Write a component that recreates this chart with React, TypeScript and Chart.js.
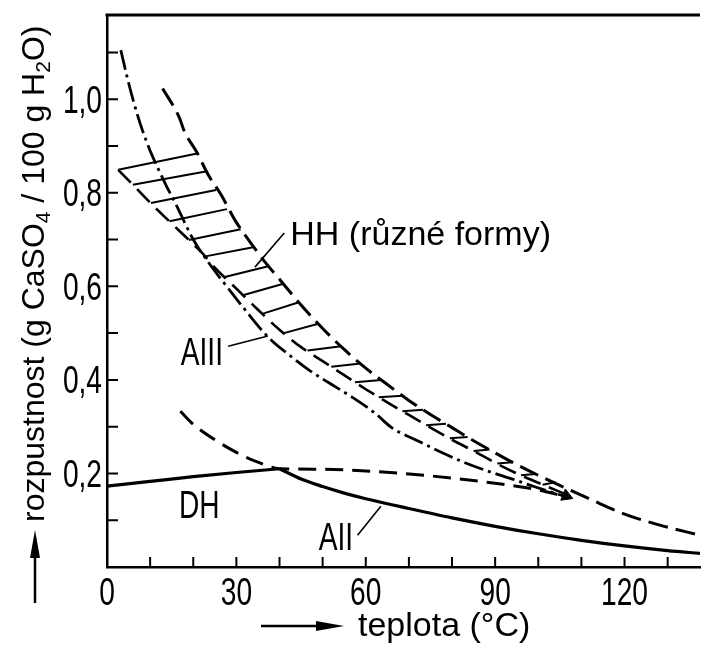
import React, { useEffect, useRef } from 'react';
import { Chart, registerables } from 'chart.js';

Chart.register(...registerables);

// ---- axes ----
const X_MIN = 0;
const X_MAX = 137.5;
const Y_MIN = 0;
const Y_MAX = 1.18;
const xTickValues = [0, 30, 60, 90, 120];
const xTickLabels = ['0', '30', '60', '90', '120'];
const xMinorTicks = [10, 20, 30, 40, 50, 60, 70, 80, 90, 100, 110, 120, 130];
const yTickValues = [0.2, 0.4, 0.6, 0.8, 1.0];
const yTickLabels = ['0,2', '0,4', '0,6', '0,8', '1,0'];
const yMinorTicks = [0.1, 0.2, 0.3, 0.4, 0.5, 0.6, 0.7, 0.8, 0.9, 1.0, 1.1];

// ---- curves ----
// DH (dihydrate) solid
const dhX = [0, 10, 20, 30, 40];
const dhY = [0.173, 0.183, 0.193, 0.202, 0.21];
// AII (anhydrite II) solid
const a2X = [40, 45, 50, 55, 60, 70, 80, 90, 100, 110, 120, 130, 137.5];
const a2Y = [0.21, 0.188, 0.172, 0.158, 0.146, 0.125, 0.105, 0.087, 0.071, 0.057, 0.045, 0.035, 0.029];
// metastable dashed (DH below 40 / AII above 40)
const metaX = [17, 20, 25, 30, 35, 40, 50, 60, 70, 80, 90, 100, 106.5];
const metaY = [0.333, 0.305, 0.272, 0.245, 0.224, 0.21, 0.209, 0.205, 0.199, 0.19, 0.179, 0.165, 0.15];
// AIII dash-dot
const a3X = [3.2, 4.6, 6, 8.2, 10, 13.7, 16, 20, 24, 28, 32, 37.3, 42, 47, 53, 57, 62, 66, 72, 78, 83, 88, 94, 99, 106.5];
const a3Y = [1.105, 1.05, 1.0, 0.934, 0.89, 0.816, 0.775, 0.7, 0.645, 0.597, 0.55, 0.492, 0.455, 0.42, 0.385, 0.362, 0.33, 0.298, 0.27, 0.243, 0.223, 0.206, 0.188, 0.172, 0.15];
// HH band upper bound (dashed)
const hhUpX = [12.9, 16.7, 18, 20.8, 23.5, 26.5, 29.7, 33.4, 36.8, 40, 45, 50, 55, 60, 65, 70, 75, 80, 85, 90, 95, 100, 106.5, 112, 120, 128, 137.5];
const hhUpY = [1.023, 0.962, 0.93, 0.887, 0.838, 0.795, 0.741, 0.692, 0.65, 0.615, 0.56, 0.51, 0.465, 0.425, 0.39, 0.356, 0.326, 0.298, 0.27, 0.244, 0.219, 0.196, 0.168, 0.145, 0.113, 0.09, 0.068];
// HH band lower bound (dashed)
const hhLoX = [2.6, 6, 10, 14, 19, 22, 25, 30, 35, 40, 45, 50, 55, 60, 65, 70, 75, 80, 85, 90, 95, 100, 106.5];
const hhLoY = [0.849, 0.817, 0.779, 0.743, 0.699, 0.672, 0.64, 0.595, 0.55, 0.507, 0.47, 0.44, 0.41, 0.38, 0.352, 0.325, 0.298, 0.272, 0.248, 0.223, 0.2, 0.18, 0.155];
// hatch rungs inside the HH band
const rungX1 = [2.6, 6.0, 10.2, 14.5, 19.0, 22.8, 27.3, 31.5, 36.0, 41.0, 46.5, 52.0, 57.5, 63.0, 68.5, 74.0, 79.5, 85.0, 90.5, 96.0, 101.0];
const rungY1 = [0.849, 0.817, 0.778, 0.739, 0.699, 0.664, 0.62, 0.581, 0.541, 0.5, 0.463, 0.428, 0.395, 0.363, 0.333, 0.303, 0.275, 0.248, 0.221, 0.196, 0.176];
const rungX2 = [20.9, 23.2, 25.3, 27.8, 31.0, 34.2, 37.4, 40.7, 44.5, 49.0, 54.3, 58.8, 63.6, 68.5, 73.3, 78.6, 83.6, 88.7, 94.0, 99.3, 104.0];
const rungY2 = [0.884, 0.846, 0.806, 0.765, 0.722, 0.684, 0.643, 0.605, 0.566, 0.52, 0.472, 0.435, 0.4, 0.366, 0.336, 0.306, 0.278, 0.251, 0.224, 0.199, 0.181];
// convergence arrow tip
const tipX = [106.5];
const tipY = [0.152];
// leader lines for annotations
const hhLeadX = [34.3, 41.1];
const hhLeadY = [0.641, 0.714];
const a3LeadX = [28.1, 37.3];
const a3LeadY = [0.472, 0.494];
const a2LeadX = [58.1, 63.5];
const a2LeadY = [0.068, 0.13];

// ---- annotation texts ----
const annoTexts = ['HH (různé formy)', 'AIII', 'DH', 'AII'];
const annoX = [42.5, 17.1, 16.7, 49.1];
const annoY = [0.688, 0.432, 0.105, 0.036];

const xTitle = 'teplota (°C)';
const yTitleParts: [string, boolean][] = [
  ['rozpustnost (g CaSO', false],
  ['4', true],
  [' / 100 g H', false],
  ['2', true],
  ['O)', false],
];

const SANS = "'Liberation Sans', Arial, sans-serif";
const CONDENSE = 0.74;

const pts = (xs: number[], ys: number[]) => xs.map((x, i) => ({ x, y: ys[i] }));

function condensedText(
  ctx: CanvasRenderingContext2D,
  text: string,
  x: number,
  y: number,
  align: 'left' | 'center' | 'right',
  size: number
) {
  ctx.save();
  ctx.font = `${size}px ${SANS}`;
  ctx.textAlign = align;
  ctx.textBaseline = 'alphabetic';
  ctx.translate(x, y);
  ctx.scale(CONDENSE, 1);
  ctx.fillText(text, 0, 0);
  ctx.restore();
}

const decorPlugin = {
  id: 'decor',
  afterDraw(chart: any) {
    const ctx = chart.ctx as CanvasRenderingContext2D;
    const { left, right, top, bottom } = chart.chartArea;
    const xs = chart.scales.x;
    const ys = chart.scales.y;
    ctx.save();
    ctx.strokeStyle = '#000';
    ctx.fillStyle = '#000';
    // top frame
    ctx.lineWidth = 3;
    ctx.beginPath();
    ctx.moveTo(left - 1.5, top);
    ctx.lineTo(right, top);
    ctx.stroke();
    // inward ticks
    ctx.lineWidth = 2;
    ctx.beginPath();
    for (const v of xMinorTicks) {
      const px = xs.getPixelForValue(v);
      ctx.moveTo(px, bottom);
      ctx.lineTo(px, bottom - 10);
    }
    for (const v of yMinorTicks) {
      const py = ys.getPixelForValue(v);
      ctx.moveTo(left, py);
      ctx.lineTo(left + 11, py);
    }
    ctx.stroke();

    // tick labels (condensed, like the original lettering)
    xTickValues.forEach((v, i) => {
      condensedText(ctx, xTickLabels[i], xs.getPixelForValue(v), bottom + 38, 'center', 38);
    });
    yTickValues.forEach((v, i) => {
      condensedText(ctx, yTickLabels[i], left - 5, ys.getPixelForValue(v) + 13.5, 'right', 38);
    });

    // annotations
    ctx.textBaseline = 'alphabetic';
    ctx.textAlign = 'left';
    annoTexts.forEach((t, i) => {
      const px = xs.getPixelForValue(annoX[i]);
      const py = ys.getPixelForValue(annoY[i]);
      if (i === 0) {
        ctx.font = `34px ${SANS}`;
        ctx.fillText(t, px, py);
      } else {
        condensedText(ctx, t, px, py, 'left', 38);
      }
    });

    // x title with arrow
    const xArrowY = bottom + 59;
    ctx.lineWidth = 2.5;
    ctx.beginPath();
    ctx.moveTo(left + 154, xArrowY);
    ctx.lineTo(left + 215, xArrowY);
    ctx.stroke();
    ctx.beginPath();
    ctx.moveTo(left + 237, xArrowY);
    ctx.lineTo(left + 209, xArrowY - 5);
    ctx.lineTo(left + 209, xArrowY + 5);
    ctx.closePath();
    ctx.fill();
    ctx.font = `34px ${SANS}`;
    ctx.textAlign = 'left';
    ctx.fillText(xTitle, left + 251, bottom + 69);

    // y title (rotated) with arrow
    const yArrowX = 35;
    ctx.beginPath();
    ctx.moveTo(yArrowX, bottom + 36);
    ctx.lineTo(yArrowX, bottom - 15);
    ctx.stroke();
    ctx.beginPath();
    ctx.moveTo(yArrowX, bottom - 37);
    ctx.lineTo(yArrowX - 5, bottom - 9);
    ctx.lineTo(yArrowX + 5, bottom - 9);
    ctx.closePath();
    ctx.fill();

    ctx.translate(44, bottom - 45);
    ctx.rotate(-Math.PI / 2);
    let cx = 0;
    for (const [s, sub] of yTitleParts) {
      ctx.font = sub ? `21px ${SANS}` : `32px ${SANS}`;
      ctx.fillText(s, cx, sub ? 6 : 0);
      cx += ctx.measureText(s).width;
    }
    ctx.restore();
  },
};

export default function App() {
  const ref = useRef<HTMLCanvasElement | null>(null);

  useEffect(() => {
    document.body.style.margin = '0';
    document.documentElement.style.overflow = 'hidden';
    if (!ref.current) return;

    const line = (data: any, width: number, dash: number[] = [], smooth = true) => ({
      data,
      showLine: true,
      borderColor: '#000',
      backgroundColor: '#000',
      borderWidth: width,
      borderDash: dash,
      pointRadius: 0,
      fill: false,
      cubicInterpolationMode: smooth ? 'monotone' : 'default',
      tension: 0,
      borderCapStyle: 'butt',
    });

    const datasets: any[] = [
      line(pts(dhX, dhY), 3.2),
      line(pts(a2X, a2Y), 3.2),
      line(pts(metaX, metaY), 3, [18, 9]),
      line(pts(a3X, a3Y), 2.8, [20, 5, 3, 5]),
      line(pts(hhUpX, hhUpY), 3, [20, 8]),
      line(pts(hhLoX, hhLoY), 2.6, [18, 9]),
      ...rungX1.map((x, i) =>
        line([{ x, y: rungY1[i] }, { x: rungX2[i], y: rungY2[i] }], 2, [], false)
      ),
      line(pts(hhLeadX, hhLeadY), 1.6, [], false),
      line(pts(a3LeadX, a3LeadY), 1.6, [], false),
      line(pts(a2LeadX, a2LeadY), 1.6, [], false),
      {
        data: pts(tipX, tipY),
        showLine: false,
        pointStyle: 'triangle',
        pointRadius: 7,
        rotation: 112,
        backgroundColor: '#000',
        borderColor: '#000',
        borderWidth: 1,
      },
    ];

    const chart = new Chart(ref.current, {
      type: 'scatter',
      data: { datasets },
      plugins: [decorPlugin],
      options: {
        responsive: false,
        animation: false,
        events: [],
        layout: { padding: { top: 15, left: 0, right: 0, bottom: 0 } },
        plugins: { legend: { display: false }, tooltip: { enabled: false } },
        scales: {
          x: {
            type: 'linear',
            min: X_MIN,
            max: X_MAX,
            grid: { display: false, drawTicks: false },
            border: { display: true, color: '#000', width: 2.5 },
            ticks: { display: false },
            afterBuildTicks: (s: any) => {
              s.ticks = xTickValues.map((v) => ({ value: v }));
            },
            afterFit: (s: any) => {
              s.height = 79;
            },
          },
          y: {
            type: 'linear',
            min: Y_MIN,
            max: Y_MAX,
            grid: { display: false, drawTicks: false },
            border: { display: true, color: '#000', width: 2.5 },
            ticks: { display: false },
            afterBuildTicks: (s: any) => {
              s.ticks = yTickValues.map((v) => ({ value: v }));
            },
            afterFit: (s: any) => {
              s.width = 107;
            },
          },
        },
      } as any,
    });

    return () => chart.destroy();
  }, []);

  return (
    <div style={{ width: 708, height: 646, background: '#fff' }}>
      <canvas ref={ref} width={708} height={646} style={{ display: 'block' }} />
    </div>
  );
}
